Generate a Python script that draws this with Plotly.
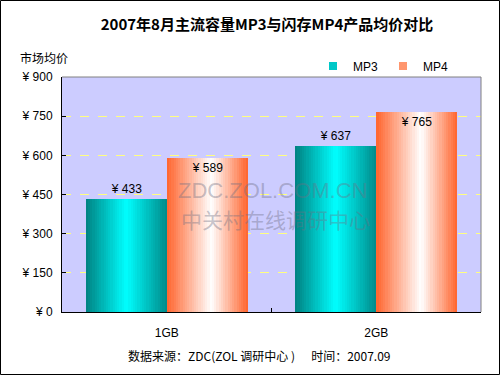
import plotly.graph_objects as go

categories = ["1GB", "2GB"]
mp3_values = [433, 637]
mp4_values = [589, 765]
series_names = ["MP3", "MP4"]
y_tick_values = [0, 150, 300, 450, 600, 750, 900]
y_tick_labels = ["¥ 0", "¥ 150", "¥ 300", "¥ 450", "¥ 600", "¥ 750", "¥ 900"]

W, H = 500, 375
ML, MR, MT, MB = 62, 19, 77, 63
PW = W - ML - MR
PH = H - MT - MB

FONT = "Liberation Sans, Arial, Noto Sans CJK SC, sans-serif"
CJK = "Noto Sans CJK SC, Liberation Sans, sans-serif"

BAR_W = 0.387
N = 36


def lerp(c1, c2, t):
    return tuple(round(a + (b - a) * t) for a, b in zip(c1, c2))


def grad(edge_l, center, edge_r, t, peak):
    if t <= peak:
        return lerp(edge_l, center, t / peak)
    return lerp(center, edge_r, (t - peak) / (1 - peak))


mp3_grad = ((0, 128, 128), (0, 255, 255), (0, 138, 138), 0.5)
mp4_grad = ((255, 100, 45), (255, 255, 255), (255, 100, 45), 0.55)

fig = go.Figure()

for vals, g, start in ((mp3_values, mp3_grad, -BAR_W), (mp4_values, mp4_grad, 0.0)):
    d = BAR_W / N
    for i in range(N):
        t = (i + 0.5) / N
        c = grad(g[0], g[1], g[2], t, g[3])
        fig.add_trace(go.Bar(
            x=categories, y=vals,
            width=[BAR_W - i * d] * len(vals),
            offset=start + i * d,
            marker=dict(color="rgb(%d,%d,%d)" % c, line=dict(width=0)),
            showlegend=False, hoverinfo="skip",
        ))

# value labels
fig.add_trace(go.Bar(
    x=categories, y=mp3_values, width=[BAR_W] * 2, offset=-BAR_W,
    marker=dict(color="rgba(0,0,0,0)", line=dict(width=0)),
    text=["¥ %d" % v for v in mp3_values], textposition="outside",
    textfont=dict(family=FONT, size=12, color="black"),
    cliponaxis=False, showlegend=False, hoverinfo="skip",
))
fig.add_trace(go.Bar(
    x=categories, y=mp4_values, width=[BAR_W] * 2, offset=0,
    marker=dict(color="rgba(0,0,0,0)", line=dict(width=0)),
    text=["¥ %d" % v for v in mp4_values], textposition="inside",
    insidetextanchor="end",
    insidetextfont=dict(family=FONT, size=12, color="black"),
    showlegend=False, hoverinfo="skip",
))

# legend entries
fig.add_trace(go.Scatter(x=[None], y=[None], name=series_names[0], mode="markers",
                         marker=dict(symbol="square", size=8, color="rgb(0,200,200)")))
fig.add_trace(go.Scatter(x=[None], y=[None], name=series_names[1], mode="markers",
                         marker=dict(symbol="square", size=8, color="rgb(255,150,110)")))

fig.update_layout(
    width=W, height=H,
    margin=dict(l=ML, r=MR, t=MT, b=MB),
    paper_bgcolor="white",
    plot_bgcolor="#CCCCFF",
    barmode="overlay",
    bargap=0,
    font=dict(family=FONT, size=12, color="black"),
    title=dict(text="<b>2007年8月主流容量MP3与闪存MP4产品均价对比</b>",
               x=0.534, xanchor="center", y=1 - 25 / H, yanchor="middle",
               font=dict(family=CJK, size=15, color="black")),
    legend=dict(orientation="h", x=(313 - ML) / PW, xanchor="left",
                y=1 + (MT - 66) / PH, yanchor="middle",
                font=dict(family=FONT, size=12), bgcolor="rgba(0,0,0,0)",
                itemwidth=30, tracegroupgap=0),
    xaxis=dict(type="category", categoryorder="array", categoryarray=categories,
               range=[-0.5, 1.5], showline=True, linecolor="black", linewidth=1,
               ticks="inside", ticklen=4, tickcolor="black", tickson="boundaries",
               ticklabelstandoff=10, showgrid=False, zeroline=False,
               tickfont=dict(family=FONT, size=12)),
    yaxis=dict(range=[0, 900], tickvals=y_tick_values, ticktext=y_tick_labels,
               showline=True, linecolor="black", linewidth=1,
               ticks="inside", ticklen=4, tickcolor="black",
               showgrid=True, gridcolor="#FFFF80", griddash="dash", gridwidth=1,
               zeroline=False, tickfont=dict(family=FONT, size=12),
               ticklabelstandoff=6),
    annotations=[
        dict(text="市场均价", xref="paper", yref="paper",
             x=(18 - ML) / PW, xanchor="left", y=1 + (MT - 57) / PH, yanchor="middle",
             showarrow=False, font=dict(family=CJK, size=12, color="black")),
        dict(text="数据来源：ZDC(ZOL 调研中心 )&nbsp;&nbsp;&nbsp;&nbsp;&nbsp;&nbsp;时间：2007.09",
             xref="paper", yref="paper",
             x=(259 - ML) / PW, xanchor="center", y=-(355 - MT - PH) / PH, yanchor="middle",
             showarrow=False, font=dict(family=CJK, size=12, color="black")),
        dict(text="ZDC.ZOL.COM.CN", xref="paper", yref="paper",
             x=(272 - ML) / PW, xanchor="center", y=(MT + PH - 190) / PH, yanchor="middle",
             borderpad=0,
             showarrow=False, font=dict(family=FONT, size=22, color="rgba(110,110,130,0.4)")),
        dict(text="中关村在线调研中心", xref="paper", yref="paper",
             x=(275 - ML) / PW, xanchor="center", y=(MT + PH - 219) / PH, yanchor="middle",
             borderpad=0,
             showarrow=False, font=dict(family=CJK, size=21, color="rgba(110,110,130,0.4)")),
    ],
    shapes=[
        dict(type="line", xref="paper", yref="paper", x0=0, x1=1, y0=1, y1=1,
             line=dict(color="#808080", width=1)),
        dict(type="line", xref="paper", yref="paper", x0=1, x1=1, y0=0, y1=1,
             line=dict(color="#808080", width=1)),
        dict(type="rect", xref="paper", yref="paper",
             x0=-(ML - 0.5) / PW, x1=1 + (MR - 0.5) / PW,
             y0=-(MB - 0.5) / PH, y1=1 + (MT - 0.5) / PH,
             line=dict(color="black", width=1)),
    ],
)

fig.write_html("out.html", config={"displayModeBar": False},
               post_script="document.body.style.margin='0';")
